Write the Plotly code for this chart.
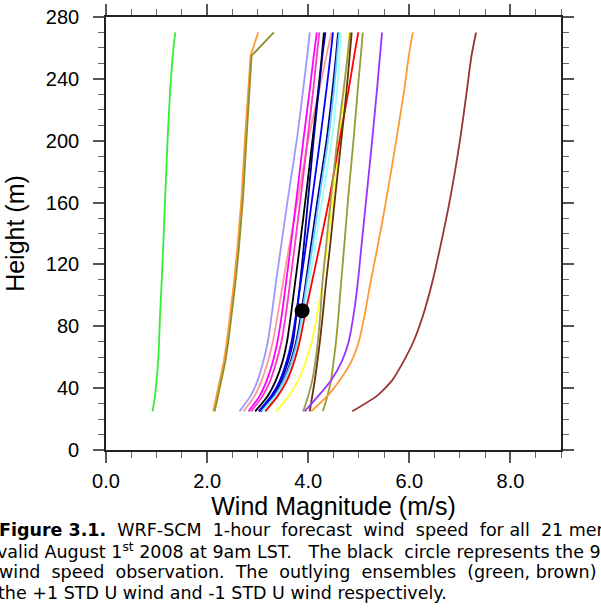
import plotly.graph_objects as go

# ---------------- data ----------------
HEIGHTS = [25, 35, 45, 57, 70, 88, 108, 131, 163, 202, 233, 255, 270]

green      = [0.92, 0.97, 1.00, 1.03, 1.05, 1.07, 1.10, 1.13, 1.17, 1.22, 1.27, 1.32, 1.37]
orange_l   = [2.12, 2.19, 2.26, 2.33, 2.39, 2.46, 2.53, 2.60, 2.68, 2.75, 2.81, 2.86, 3.01]
olive_l    = [2.15, 2.22, 2.29, 2.36, 2.42, 2.49, 2.56, 2.63, 2.71, 2.78, 2.84, 2.88, 3.32]
periwinkle = [2.64, 2.86, 3.00, 3.11, 3.20, 3.28, 3.36, 3.46, 3.60, 3.78, 3.90, 3.98, 4.03]
salmon     = [2.72, 2.94, 3.08, 3.20, 3.30, 3.40, 3.50, 3.62, 3.80, 4.01, 4.22, 4.36, 4.46]
magenta    = [2.82, 3.04, 3.18, 3.30, 3.39, 3.48, 3.56, 3.65, 3.77, 3.91, 4.03, 4.11, 4.17]
hotpink    = [2.87, 3.10, 3.25, 3.37, 3.47, 3.56, 3.64, 3.73, 3.85, 3.99, 4.10, 4.17, 4.22]
black      = [2.95, 3.20, 3.36, 3.49, 3.58, 3.66, 3.74, 3.83, 3.95, 4.09, 4.20, 4.27, 4.31]
navy       = [3.05, 3.30, 3.47, 3.60, 3.70, 3.77, 3.84, 3.91, 4.00, 4.11, 4.21, 4.28, 4.34]
blue       = [3.02, 3.27, 3.44, 3.57, 3.67, 3.76, 3.85, 3.95, 4.08, 4.24, 4.36, 4.44, 4.49]
navy2      = [3.07, 3.33, 3.51, 3.65, 3.76, 3.86, 3.95, 4.05, 4.19, 4.37, 4.48, 4.55, 4.59]
skyblue    = [3.08, 3.34, 3.52, 3.67, 3.78, 3.88, 3.97, 4.08, 4.22, 4.40, 4.51, 4.57, 4.61]
cyan       = [3.10, 3.37, 3.56, 3.71, 3.82, 3.92, 4.02, 4.13, 4.28, 4.47, 4.57, 4.62, 4.65]
yellow     = [3.37, 3.62, 3.80, 3.95, 4.07, 4.18, 4.28, 4.37, 4.49, 4.62, 4.71, 4.77, 4.81]
red        = [3.15, 3.40, 3.58, 3.72, 3.83, 3.94, 4.07, 4.22, 4.42, 4.63, 4.80, 4.91, 4.99]
grayolive  = [3.90, 4.00, 4.08, 4.14, 4.19, 4.24, 4.28, 4.35, 4.45, 4.58, 4.70, 4.78, 4.83]
darkbrown  = [4.03, 4.08, 4.13, 4.18, 4.23, 4.29, 4.35, 4.43, 4.53, 4.66, 4.76, 4.82, 4.86]
olive_r    = [4.29, 4.38, 4.45, 4.50, 4.55, 4.60, 4.65, 4.71, 4.79, 4.90, 4.98, 5.04, 5.08]
purple     = [3.93, 4.20, 4.45, 4.66, 4.80, 4.90, 4.98, 5.05, 5.15, 5.27, 5.36, 5.42, 5.46]
orange_r   = [4.06, 4.38, 4.62, 4.85, 5.00, 5.12, 5.23, 5.37, 5.55, 5.75, 5.90, 5.99, 6.07]
brown_r    = [4.87, 5.36, 5.66, 5.88, 6.08, 6.28, 6.45, 6.61, 6.81, 7.01, 7.14, 7.23, 7.32]

OBS_WIND = [3.88]
OBS_HEIGHT = [90]

X_TITLE = "Wind Magnitude (m/s)"
Y_TITLE = "Height (m)"
NB = "&nbsp;"
CAPTION = [
    "<b>Figure 3.1.</b>" + NB * 2 + "WRF-SCM" + NB * 2 + "1-hour" + NB * 2 + "forecast" + NB * 2
    + "wind" + NB * 2 + "speed" + NB * 2 + "for" + NB + "all" + NB * 2 + "21" + NB + "members",
    "valid August 1<sup>st</sup> 2008 at 9am LST." + NB * 3 + "The black" + NB * 2
    + "circle represents the 90 m",
    "wind" + NB * 2 + "speed" + NB * 2 + "observation." + NB * 2 + "The" + NB * 2 + "outlying"
    + NB * 2 + "ensembles" + NB * 2 + "(green," + NB + "brown)" + NB * 2 + "are",
    "the +1 STD U wind and -1 STD U wind respectively.",
]

# ---------------- styles ----------------
members = [
    (green, "#33ee33", "spline"), (orange_l, "#ff9933", "linear"), (olive_l, "#8f8f2a", "linear"),
    (periwinkle, "#9999ff", "spline"), (salmon, "#ff9999", "spline"), (magenta, "#ff00ff", "spline"),
    (hotpink, "#ff33cc", "spline"), (black, "#000000", "spline"), (navy, "#000099", "spline"),
    (blue, "#0000ff", "spline"), (navy2, "#000080", "spline"), (skyblue, "#66ccff", "spline"),
    (cyan, "#99ffff", "spline"), (yellow, "#ffff33", "spline"), (red, "#ff0000", "spline"),
    (grayolive, "#99995c", "spline"), (darkbrown, "#663300", "spline"), (olive_r, "#999933", "spline"),
    (purple, "#9933ff", "spline"), (orange_r, "#ff9933", "spline"), (brown_r, "#993333", "spline"),
]

fig = go.Figure()
for ws, color, shape in members:
    fig.add_trace(go.Scatter(x=ws, y=HEIGHTS, mode="lines",
                             line=dict(color=color, width=1.8, shape=shape, smoothing=0.6),
                             showlegend=False, hoverinfo="skip"))
fig.add_trace(go.Scatter(x=OBS_WIND, y=OBS_HEIGHT, mode="markers",
                         marker=dict(color="black", size=15),
                         showlegend=False, hoverinfo="skip"))

L, R, T, B = 106, 40, 17, 166
W, H = 601, 616
PW = W - L - R
PH = H - T - B

def px_x(px):
    return (px - L) / PW

def px_y(py):
    return (H - B - py) / PH

axis_common = dict(
    ticks="outside", ticklen=11, tickwidth=1.5, tickcolor="#555555",
    showline=True, linecolor="#222222", linewidth=1.6, mirror="allticks",
    showgrid=False, zeroline=False, automargin=False,
    tickfont=dict(family="Liberation Sans", size=20, color="black"),
)

fig.update_xaxes(range=[0, 9], tick0=0, dtick=2, tickformat=".1f",
                 ticklabelstandoff=1,
                 minor=dict(dtick=0.5, ticks="outside", ticklen=6,
                            tickwidth=1.2, tickcolor="#666666", showgrid=False),
                 title=dict(text=X_TITLE, standoff=6,
                            font=dict(family="Liberation Sans", size=25, color="black")),
                 **axis_common)
fig.update_yaxes(range=[0, 280], tick0=0, dtick=40,
                 ticklabelstandoff=10,
                 minor=dict(dtick=10, ticks="outside", ticklen=6,
                            tickwidth=1.2, tickcolor="#666666", showgrid=False),
                 title=dict(text=Y_TITLE, standoff=14,
                            font=dict(family="Liberation Sans", size=25, color="black")),
                 **axis_common)

line_y = [530, 551, 572, 593]
line_x = [-3, -5, -3, -4]
for txt, py, px in zip(CAPTION, line_y, line_x):
    fig.add_annotation(text=txt, xref="paper", yref="paper",
                       x=px_x(px), y=px_y(py), xanchor="left", yanchor="middle",
                       showarrow=False,
                       font=dict(family="DejaVu Sans", size=17.5, color="black"))

fig.update_layout(width=W, height=H,
                  margin=dict(l=L, r=R, t=T, b=B, autoexpand=False),
                  plot_bgcolor="white", paper_bgcolor="white", showlegend=False)

fig.write_html("out.html")
